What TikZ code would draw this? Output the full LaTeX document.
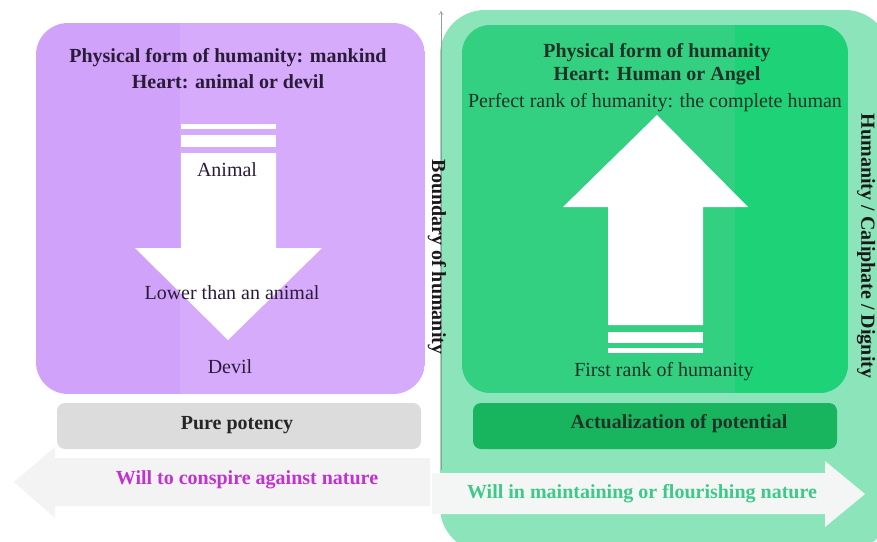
\documentclass[tikz,border=0pt]{standalone}
\usepackage{fontspec}
\setmainfont{Liberation Serif}
\usetikzlibrary{arrows.meta}
\definecolor{purplebox}{HTML}{D1A2FA}
\definecolor{purpleboxlight}{HTML}{D6ABFB}
\definecolor{greenouter}{HTML}{8CE5BA}
\definecolor{greeninner}{HTML}{34D081}
\definecolor{greeninnerbright}{HTML}{1DD277}
\definecolor{greenbar}{HTML}{19B55E}
\definecolor{greybar}{HTML}{DCDCDC}
\definecolor{purpletext}{HTML}{2A1C38}
\definecolor{greentext}{HTML}{1F3326}
\definecolor{magentatext}{HTML}{C232D2}
\definecolor{greenlabel}{HTML}{3CC98A}
\definecolor{whitearrow}{HTML}{F4F6F5}
\definecolor{greyarrow}{HTML}{F3F3F3}
\tikzset{
  lbl/.style={inner sep=0pt, font=\fontsize{20}{24}\selectfont},
  boldlbl/.style={lbl, font=\fontsize{20}{24}\selectfont\bfseries},
  bigarrow/.style={fill=white, draw=none},
}
\begin{document}
\begin{tikzpicture}[x=1pt,y=-1pt]
\useasboundingbox (0,0) rectangle (877,541);
\clip (0,0) rectangle (877,541);
\fill[white] (0,0) rectangle (877,541);

% faint left-pointing arrow
\fill[greyarrow] (430,458) -- (55,458) -- (55,447) -- (14,482) -- (55,518) -- (55,506) -- (430,506) -- cycle;

% outer light green area
\fill[greenouter, rounded corners=45pt] (440,10) rectangle (890,552);

% left purple box (two tones)
\begin{scope}
\clip[rounded corners=32pt] (36,23) rectangle (425,394);
\fill[purplebox] (36,23) rectangle (180,394);
\fill[purpleboxlight] (180,23) rectangle (425,394);
\end{scope}
% right inner green box (two tones)
\begin{scope}
\clip[rounded corners=28pt] (462,25) rectangle (848,393);
\fill[greeninner] (462,25) rectangle (735,393);
\fill[greeninnerbright] (735,25) rectangle (848,393);
\end{scope}

% bars
\fill[greybar, rounded corners=8pt] (57,403) rectangle (421,449);
\fill[greenbar, rounded corners=8pt] (473,403) rectangle (837,449);

% right white arrow
\fill[whitearrow] (432,473) -- (825,473) -- (825,461) -- (865,494) -- (825,527) -- (825,514) -- (432,514) -- cycle;

% down arrow (left)
\fill[bigarrow] (181,124) rectangle (276,129);
\fill[bigarrow] (181,135) rectangle (276,147);
\fill[bigarrow] (181,153) -- (276,153) -- (276,248) -- (322,248) -- (228,340) -- (135,248) -- (181,248) -- cycle;

% up arrow (right)
\fill[bigarrow] (608,325) -- (703,325) -- (703,207) -- (748,207) -- (657,115) -- (563,207) -- (608,207) -- cycle;
\fill[bigarrow] (608,332) rectangle (703,343);
\fill[bigarrow] (608,348) rectangle (703,353);

% boundary line
\coordinate (bbot) at (441,470);
\coordinate (btop) at (441,11);
\draw[gray!80, line width=0.5pt, -{To[length=4pt,width=5pt]}] (bbot) -- (btop);

% left texts
\node[boldlbl, text=purpletext] (lt1) at (228,58) {Physical form of humanity: mankind};
\node[boldlbl, text=purpletext] (lt2) at (228,82) {Heart: animal or devil};
\node[lbl, text=purpletext] (animal) at (227,170) {Animal};
\node[lbl, text=purpletext] (lower) at (232,293) {Lower than an animal};
\node[lbl, text=purpletext] (devil) at (230,367) {Devil};
\node[boldlbl, text=black!85] (pure) at (237,425) {Pure potency};
\node[boldlbl, text=magentatext] (conspire) at (247,480) {Will to conspire against nature};

% right texts
\node[boldlbl, text=greentext] (rt1) at (657,53) {Physical form of humanity};
\node[boldlbl, text=greentext] (rt2) at (657,76) {Heart: Human or Angel};
\node[lbl, text=greentext] (perfect) at (655,103) {Perfect rank of humanity: the complete human};
\node[lbl, text=greentext] (first) at (664,372) {First rank of humanity};
\node[boldlbl, text=greentext] (actual) at (679,424) {Actualization of potential};
\node[boldlbl, text=greenlabel] (maintain) at (642,494) {Will in maintaining or flourishing nature};

% rotated texts
\node[boldlbl, text=black!90, rotate=-90] (boundary) at (437,257) {Boundary of humanity};
\node[boldlbl, text=black!90, rotate=-90] (caliph) at (866,246) {Humanity / Caliphate / Dignity};
\end{tikzpicture}
\end{document}
